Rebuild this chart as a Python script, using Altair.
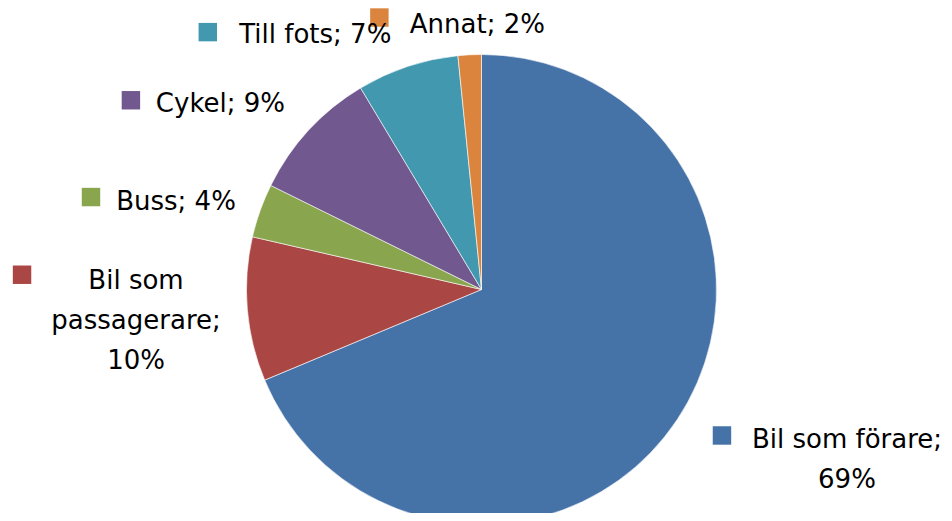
import altair as alt
import pandas as pd

# ---- data ----
categories = ["Bil som förare", "Bil som passagerare", "Buss", "Cykel", "Till fots", "Annat"]
shares = [68.7, 9.9, 3.7, 9.1, 7.0, 1.6]          # share of trips, % (slice sizes)
colors = ["#4572A7", "#AA4643", "#89A54E", "#71588F", "#4198AF", "#DB843D"]

# label line-wrapping, as in the original
label_wrap = {
    "Bil som förare": "Bil som förare;\n{p}%",
    "Bil som passagerare": "Bil som\npassagerare;\n{p}%",
}

# label placement: (angle shift from slice middle in degrees, distance from centre,
#                   text centre offset, baseline offset)
label_layout = {
    "Bil som förare": (-2.4, 281.3, 125, 13),
    "Bil som passagerare": (6.7, 459.7, 114, 14),
    "Buss": (-6.3, 401.3, 85, 13),
    "Cykel": (-14.3, 398.4, 89.5, 12),
    "Till fots": (-28.4, 375.7, 107.5, 11),
    "Annat": (-17.7, 290.5, 98, 15),
}

CX, CY, R = 473.5, 281.5, 235

rows = []
for i, (c, s) in enumerate(zip(categories, shares)):
    p = int(round(s))
    lab = label_wrap.get(c, "{c}; {p}%").format(c=c, p=p)
    sh, lr, tdx, tdy = label_layout[c]
    rows.append({"idx": i, "category": c, "share": s, "label": lab,
                 "shift": sh, "lr": lr, "tdx": tdx, "tdy": tdy})
df = pd.DataFrame(rows)

color_scale = alt.Scale(domain=categories, range=colors)

base = alt.Chart(df)

arcs = base.mark_arc(outerRadius=R, stroke="white", strokeWidth=0.6).encode(
    theta=alt.Theta("share:Q", stack=True),
    color=alt.Color("category:N", scale=color_scale, legend=None),
    order=alt.Order("idx:Q"),
    x=alt.value(CX),
    y=alt.value(CY),
)

labelled = (
    base.transform_window(cum="sum(share)", sort=[alt.SortField("idx", order="ascending")], frame=[None, 0])
    .transform_joinaggregate(total="sum(share)")
    .transform_calculate(mid="(datum.cum - datum.share/2)/datum.total*2*PI")
    .transform_calculate(sa="datum.mid + datum.shift*PI/180")
    .transform_calculate(sx=f"{CX} + datum.lr*sin(datum.sa)",
                         sy=f"{CY} - datum.lr*cos(datum.sa)")
    .transform_calculate(tx="datum.sx + datum.tdx", ty="datum.sy + datum.tdy")
)

squares = labelled.mark_point(shape="square", filled=True, size=340, opacity=1).encode(
    x=alt.X("sx:Q", scale=None, axis=None),
    y=alt.Y("sy:Q", scale=None, axis=None),
    color=alt.Color("category:N", scale=color_scale, legend=None),
)

texts = labelled.mark_text(font="DejaVu Sans", fontSize=26, align="center", baseline="alphabetic",
                           lineBreak="\n", lineHeight=40, color="#000000").encode(
    x=alt.X("tx:Q", scale=None, axis=None),
    y=alt.Y("ty:Q", scale=None, axis=None),
    text="label:N",
)

chart = (
    alt.layer(arcs, squares, texts)
    .properties(width=936, height=505, padding=0, autosize=alt.AutoSizeParams(type="none"))
    .configure_view(stroke=None)
)

chart.save("out.html", embed_options={"renderer": "svg", "actions": False})
